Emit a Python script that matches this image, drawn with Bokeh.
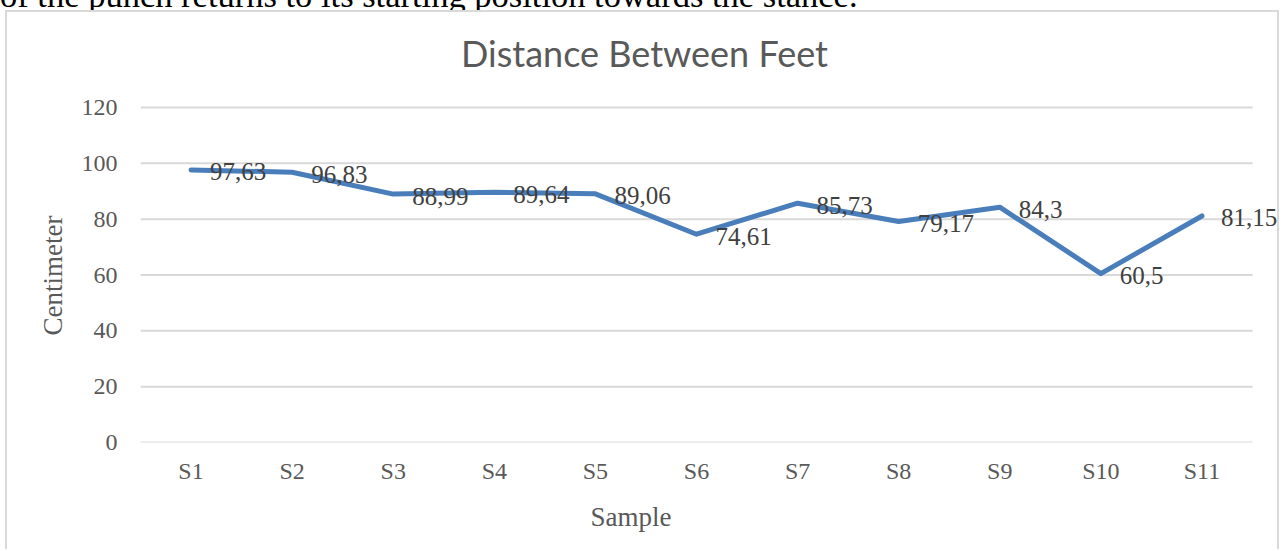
from bokeh.plotting import figure
from bokeh.layouts import column
from bokeh.models import (ColumnDataSource, Range1d, LabelSet, Label, FixedTicker, Div, Title)
from bokeh.embed import file_html
from bokeh.resources import INLINE

samples = ["S1", "S2", "S3", "S4", "S5", "S6", "S7", "S8", "S9", "S10", "S11"]
distance_cm = [97.63, 96.83, 88.99, 89.64, 89.06, 74.61, 85.73, 79.17, 84.3, 60.5, 81.15]
value_labels = [str(v).replace(".", ",") for v in distance_cm]
y_ticks = [0, 20, 40, 60, 80, 100, 120]

title_text = "Distance Between Feet"
x_title = "Sample"
y_title = "Centimeter"
doc_text = "of the punch returns to its starting position towards the stance."

# ---- page geometry (px) ----
PAGE_W, PAGE_H = 1287, 551
DOC_H = 10          # strip of document text above the chart
BW = 2              # chart border width
ML = 5              # chart left margin
CX0, CY0 = ML + BW, DOC_H + BW          # canvas origin on the page
CW = 1281 - CX0                          # canvas width
CH = PAGE_H - CY0                        # canvas height
FL, FR, FT, FB = 140, 1252, 107, 442     # plot area (gridline extent) on the page

n = len(samples)
xs = list(range(n))
slot = (FR - FL) / n
x_start = -0.5
x_end = n - 0.5 + (CX0 + CW - FR) / slot
# the frame reaches the canvas top so the chart title can live inside it
y_end = (FB - CY0) * y_ticks[-1] / (FB - FT)

serif = "Liberation Serif"
grey = "#595959"

src = ColumnDataSource(dict(x=xs, y=distance_cm, lab=value_labels))
grid_src = ColumnDataSource(dict(y=y_ticks))

p = figure(width=CW, height=CH, x_range=Range1d(x_start, x_end),
           y_range=Range1d(y_ticks[0], y_end),
           output_backend="svg", toolbar_location=None,
           min_border_left=FL - CX0, min_border_right=0,
           min_border_top=0, min_border_bottom=CH - (FB - CY0),
           styles={"margin-left": f"{ML}px",
                   "border-top": f"{BW}px solid #d9d9d9",
                   "border-left": f"{BW}px solid #d9d9d9",
                   "border-right": f"{BW}px solid #d9d9d9"})
p.outline_line_color = None
p.background_fill_color = "white"
p.border_fill_color = "white"
p.xgrid.grid_line_color = None
p.ygrid.grid_line_color = None

# axes
p.xaxis.ticker = FixedTicker(ticks=xs)
p.xaxis.major_label_overrides = {i: s for i, s in enumerate(samples)}
p.yaxis.ticker = FixedTicker(ticks=y_ticks)
for ax in (p.xaxis[0], p.yaxis[0]):
    ax.axis_line_color = None
    ax.major_tick_line_color = None
    ax.minor_tick_line_color = None
    ax.major_tick_in = 0
    ax.major_tick_out = 0
    ax.major_label_text_font = serif
    ax.major_label_text_font_size = "24px"
    ax.major_label_text_color = grey
p.xaxis.major_label_standoff = 15
p.yaxis.major_label_standoff = 23

# axis titles (placed like Excel does)
p.add_layout(Title(text=x_title, align="left", offset=590 - FL, standoff=30,
                   vertical_align="top",
                   text_font=serif, text_font_size="27px", text_font_style="normal",
                   text_color=grey), "below")
p.add_layout(Title(text=y_title, align="left", offset=FB - 335, standoff=21,
                   vertical_align="bottom",
                   text_font=serif, text_font_size="27px", text_font_style="normal",
                   text_color=grey), "left")

# horizontal gridlines over the plot area
p.segment(x0=x_start, x1=n - 0.5, y0="y", y1="y", source=grid_src,
          line_color="#d9d9d9", line_width=2)

# data line
p.line("x", "y", source=src, line_color="#4a7ebb", line_width=5,
       line_join="round", line_cap="round")

# data labels
p.add_layout(LabelSet(x="x", y="y", text="lab", source=src, x_offset=19, y_offset=-2,
                      text_align="left", text_baseline="middle",
                      text_font=serif, text_font_size="25px", text_color="#404040"))

# chart title
p.add_layout(Label(x=644 - FL, y=FB - 52, x_units="screen", y_units="screen",
                   text=title_text, text_align="center", text_baseline="middle",
                   text_font="Lato", text_font_size="36px", text_color=grey))

# document text above the chart, cut by the page top
doc = Div(text=(f'<div style="position:relative; top:-22px; font-family:\'{serif}\'; '
                f'font-size:34.5px; line-height:34px; white-space:nowrap; color:black;">'
                f'{doc_text}</div>'),
          width=PAGE_W, height=DOC_H, margin=0, styles={"overflow": "hidden"})

layout = column(doc, p, spacing=0)
open("out.html", "w").write(file_html(layout, INLINE))
